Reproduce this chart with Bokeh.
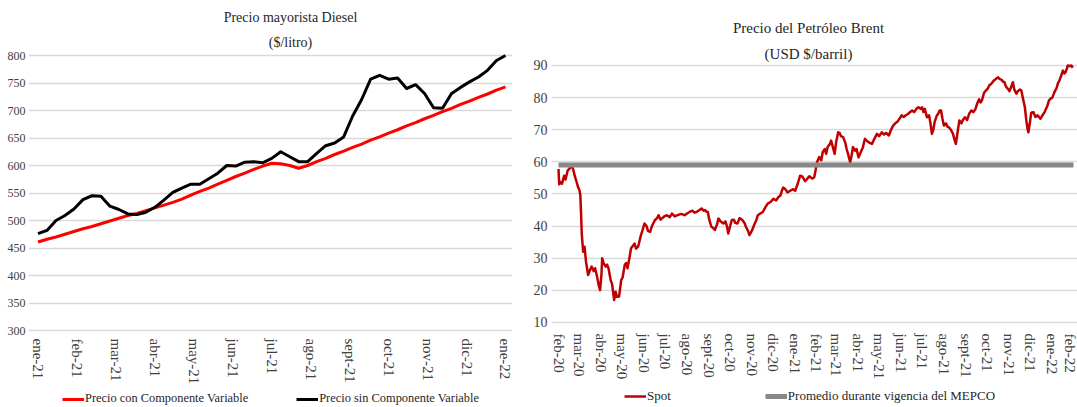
import pandas as pd
from bokeh.plotting import figure
from bokeh.models import Range1d, FixedTicker, Legend, LegendItem, Label
from bokeh.layouts import row
from bokeh.embed import file_html
from bokeh.resources import INLINE

FONT = "Liberation Serif"

# ---------------- Left chart data: Precio mayorista Diesel ($/litro), weekly ----------------
diesel_months = ["ene-21", "feb-21", "mar-21", "abr-21", "may-21", "jun-21", "jul-21",
                 "ago-21", "sept-21", "oct-21", "nov-21", "dic-21", "ene-22"]
diesel_week = list(range(53))
precio_sin_cv = [476, 482, 500, 509, 521, 538, 545, 544, 526, 520, 512, 511, 515, 524,
                 537, 551, 559, 566, 566, 576, 586, 600, 599, 606, 607, 605, 613, 625,
                 616, 607, 607, 622, 636, 641, 652, 690, 720, 757, 764, 757, 759, 740,
                 747, 731, 705, 704, 731, 742, 752, 761, 773, 791, 800]
precio_con_cv = [461, 466, 470, 475, 480, 485, 489, 494, 499, 504, 509, 513, 518, 523,
                 528, 533, 539, 546, 553, 559, 566, 573, 580, 586, 593, 599, 604, 603,
                 600, 595, 600, 607, 613, 620, 626, 633, 639, 646, 652, 659, 665, 672,
                 678, 685, 691, 698, 704, 711, 717, 724, 730, 737, 743]
diesel_yticks = [300, 350, 400, 450, 500, 550, 600, 650, 700, 750, 800]

# ---------------- Right chart data: Precio del Petróleo Brent (USD $/barril) ----------------
brent_start = "2020-02-01"
brent_months = ["feb-20", "mar-20", "abr-20", "may-20", "jun-20", "jul-20", "ago-20",
                "sept-20", "oct-20", "nov-20", "dic-20", "ene-21", "feb-21", "mar-21",
                "abr-21", "may-21", "jun-21", "jul-21", "ago-21", "sept-21", "oct-21",
                "nov-21", "dic-21", "ene-22", "feb-22"]
brent_day = [0, 1, 3, 5, 8, 10, 13, 16, 18, 21, 23, 26, 28, 30, 31, 32, 33, 35, 37, 39,
             42, 45, 47, 50, 52, 55, 57, 59, 61, 62, 64, 67, 69, 71, 74, 76, 79, 81, 83, 86,
             89, 91, 94, 96, 98, 101, 103, 106, 108, 110, 113, 117, 119, 122, 125, 127, 130,
             133, 137, 140, 142, 145, 147, 150, 154, 158, 161, 165, 169, 174, 179, 183, 186,
             190, 193, 196, 200, 203, 206, 208, 210, 212, 214, 217, 219, 222, 225, 227, 230,
             234, 237, 239, 241, 243, 246, 249, 251, 254, 257, 261, 264, 266, 269, 271, 273,
             275, 278, 281, 283, 287, 290, 294, 297, 301, 305, 309, 312, 315, 317, 319, 322,
             325, 329, 333, 336, 340, 343, 346, 350, 353, 356, 360, 363, 365, 367, 370, 373,
             375, 378, 380, 382, 385, 387, 389, 392, 394, 397, 399, 401, 404, 407, 409, 411,
             414, 416, 418, 421, 423, 426, 429, 432, 435, 438, 441, 445, 448, 452, 455, 459,
             462, 465, 469, 472, 475, 478, 481, 484, 487, 490, 493, 496, 499, 502, 505, 508,
             511, 514, 516, 518, 520, 523, 526, 528, 530, 532, 534, 537, 539, 541, 543, 545,
             547, 550, 552, 554, 557, 560, 562, 564, 566, 569, 572, 574, 577, 580, 583, 586,
             589, 592, 594, 597, 599, 601, 604, 606, 609, 612, 614, 616, 619, 622, 624, 626,
             629, 631, 633, 635, 638, 640, 642, 645, 647, 650, 652, 655, 657, 659, 662, 664,
             666, 667, 669, 671, 674, 677, 680, 684, 687, 690, 691, 694, 696, 698, 701, 704,
             707, 709, 711, 713, 716, 718, 720, 723, 726, 728, 730]
brent_spot = [57.8, 53.0, 53.7, 53.2, 55.7, 54.5, 57.3, 58.0, 59.3, 57.5, 55.7, 53.5, 52.0,
              51.0, 49.5, 44.0, 37.7, 32.0, 33.6, 29.0, 24.8, 26.5, 27.4, 26.0, 26.9, 24.0,
              21.7, 20.1, 25.0, 30.0, 28.5, 27.4, 28.0, 26.9, 23.2, 22.0, 17.0, 19.6, 18.0,
              18.1, 23.2, 24.0, 27.9, 28.5, 26.9, 30.5, 33.1, 34.0, 34.6, 33.0, 33.6, 37.2,
              38.5, 40.8, 40.0, 38.5, 38.2, 40.2, 41.9, 42.5, 43.4, 42.0, 42.4, 43.0, 43.4,
              42.8, 43.9, 43.0, 43.4, 43.8, 43.4, 44.0, 44.4, 44.8, 44.2, 44.4, 45.0, 45.5,
              44.8, 45.0, 44.5, 44.4, 42.0, 39.8, 39.5, 38.8, 40.5, 42.4, 41.5, 40.8, 41.5,
              40.0, 37.7, 39.5, 41.9, 42.0, 41.0, 40.8, 42.5, 41.9, 41.0, 39.8, 38.5, 37.2,
              38.0, 38.8, 40.5, 42.0, 43.4, 44.0, 44.4, 46.0, 47.0, 47.5, 48.5, 48.0, 49.0,
              49.5, 51.0, 52.0, 51.5, 50.5, 51.0, 51.5, 51.0, 53.5, 55.7, 55.5, 54.0, 54.7,
              55.5, 54.8, 55.2, 57.5, 59.9, 61.5, 60.5, 63.0, 64.0, 62.5, 64.6, 65.5, 66.6,
              65.0, 62.5, 66.0, 69.2, 69.0, 68.0, 67.7, 66.0, 64.0, 62.5, 59.9, 62.0, 64.6,
              63.5, 64.0, 61.4, 63.0, 64.5, 67.2, 66.5, 66.0, 65.6, 67.0, 68.7, 68.0, 69.2,
              68.5, 69.0, 68.2, 70.0, 71.3, 72.0, 72.5, 73.4, 74.5, 74.0, 74.5, 74.9, 75.5,
              76.0, 75.5, 76.5, 77.0, 76.5, 77.0, 75.5, 76.5, 73.9, 74.5, 72.0, 68.7, 70.0,
              72.5, 74.4, 75.0, 76.0, 76.0, 73.5, 71.3, 72.0, 71.0, 70.8, 70.0, 68.7, 67.0,
              65.6, 68.5, 72.9, 72.0, 73.0, 73.9, 73.0, 75.0, 76.0, 75.5, 76.5, 78.0, 79.5,
              78.5, 79.1, 81.5, 82.0, 82.7, 84.0, 84.2, 84.8, 85.5, 86.0, 86.3, 85.8, 85.5,
              85.0, 84.8, 83.5, 82.7, 82.0, 83.0, 84.8, 82.5, 81.2, 82.0, 82.5, 82.2, 80.0,
              77.0, 73.0, 70.0, 69.2, 72.0, 75.3, 75.5, 74.0, 74.5, 73.4, 74.5, 75.5, 76.0,
              77.5, 79.0, 79.6, 80.0, 81.7, 83.0, 84.5, 85.3, 86.5, 88.4, 87.5, 88.0, 90.0,
              89.8, 90.0, 89.3]
mepco_avg = 59.0
brent_yticks = [10, 20, 30, 40, 50, 60, 70, 80, 90]

TICK_COLOR = "#404040"
TEXT_COLOR = "#262626"
GRID_COLOR = "#d9d9d9"


def style(p, ylab_size, standoff_y, standoff_x, axis_at):
    p.outline_line_color = None
    p.xgrid.visible = False
    p.ygrid.grid_line_color = GRID_COLOR
    p.ygrid.grid_line_width = 1.5
    p.background_fill_color = "white"
    p.border_fill_color = "white"
    for ax in (p.xaxis[0], p.yaxis[0]):
        ax.axis_line_color = None
        ax.major_tick_line_color = None
        ax.minor_tick_line_color = None
        ax.major_tick_out = 0
        ax.major_tick_in = 0
        ax.major_label_text_font = FONT
        ax.major_label_text_color = TICK_COLOR
    p.yaxis[0].major_label_text_font_size = ylab_size
    p.yaxis[0].major_label_standoff = standoff_y
    xa = p.xaxis[0]
    xa.major_label_text_font_size = "15px"
    xa.major_label_orientation = "vertical"
    xa.major_label_standoff = standoff_x
    xa.fixed_location = axis_at   # axis drawn at the lowest grid line, inside the frame


def make_legend(items, x, y, spacing, size):
    return Legend(items=items, location=(x, y), orientation="horizontal", spacing=spacing,
                  padding=0, margin=0, glyph_width=22, glyph_height=14, label_height=14,
                  label_standoff=1, label_text_font=FONT, label_text_font_size=size,
                  label_text_color=TEXT_COLOR, border_line_color=None,
                  background_fill_alpha=0)


H = 407

# ---------------- Left figure ----------------
p1 = figure(frame_width=484, frame_height=H,
            x_range=Range1d(-0.244, 12.18), y_range=Range1d(160, 900),
            output_backend="svg", toolbar_location=None,
            min_border_left=28, min_border_right=18, min_border_top=0, min_border_bottom=0)
style(p1, "12px", 3, 8, 300)
p1.yaxis[0].ticker = FixedTicker(ticks=diesel_yticks)
p1.xaxis[0].ticker = FixedTicker(ticks=list(range(len(diesel_months))))
p1.xaxis[0].major_label_overrides = {i: m for i, m in enumerate(diesel_months)}

wx = [w * 12 / 52 for w in diesel_week]
r_con = p1.line(wx, precio_con_cv, line_color="#ff0000", line_width=3, line_join="round")
r_sin = p1.line(wx, precio_sin_cv, line_color="#000000", line_width=3, line_join="round")

for txt, y in (("Precio mayorista Diesel", 390), ("($/litro)", 365)):
    p1.add_layout(Label(x=262, y=y, x_units="screen", y_units="screen", text=txt,
                        text_font=FONT, text_font_size="14px", text_color=TEXT_COLOR,
                        text_align="center", text_baseline="middle"))

p1.add_layout(make_legend([LegendItem(label="Precio con Componente Variable", renderers=[r_con]),
                           LegendItem(label="Precio sin Componente Variable", renderers=[r_sin])],
                          34, 1, 48, "12.4px"))

# ---------------- Right figure ----------------
start = pd.Timestamp(brent_start)
month_starts = pd.date_range(brent_start, periods=len(brent_months), freq="MS")
brent_ticks = [int((d - start).days) for d in month_starts]

p2 = figure(frame_width=526, frame_height=H,
            x_range=Range1d(-9.94, 736.7), y_range=Range1d(-16.46, 110.23),
            output_backend="svg", toolbar_location=None,
            min_border_left=21, min_border_right=0, min_border_top=0, min_border_bottom=0)
style(p2, "14px", 4, 11, 10)
p2.yaxis[0].ticker = FixedTicker(ticks=brent_yticks)
p2.xaxis[0].ticker = FixedTicker(ticks=brent_ticks)
p2.xaxis[0].major_label_overrides = {t: m for t, m in zip(brent_ticks, brent_months)}

r_spot = p2.line(brent_day, brent_spot, line_color="#c00000", line_width=2.5, line_join="round")
r_mep = p2.line([brent_ticks[0], brent_ticks[-1]], [mepco_avg, mepco_avg],
                line_color="#888888", line_width=5)

for txt, y in (("Precio del Petróleo Brent", 379.5), ("(USD $/barril)", 354)):
    p2.add_layout(Label(x=257, y=y, x_units="screen", y_units="screen", text=txt,
                        text_font=FONT, text_font_size="15px", text_color=TEXT_COLOR,
                        text_align="center", text_baseline="middle"))

p2.add_layout(make_legend([LegendItem(label="Spot", renderers=[r_spot]),
                           LegendItem(label="Promedio durante vigencia del MEPCO", renderers=[r_mep])],
                          73, 3, 94, "13px"))

layout = row(p1, p2, spacing=0)
open("out.html", "w").write(file_html(layout, INLINE))
